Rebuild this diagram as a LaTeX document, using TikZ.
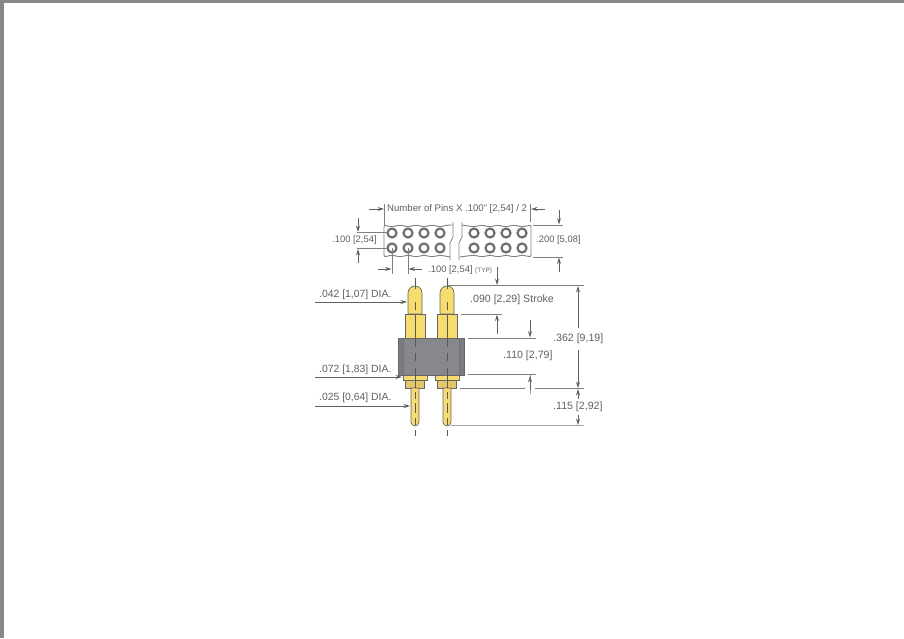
\documentclass[tikz,border=0pt]{standalone}
\usepackage{fontspec}
\setmainfont{Liberation Sans}
\usetikzlibrary{arrows.meta}
\definecolor{pingold}{RGB}{247,219,110}
\definecolor{bodygray}{RGB}{136,136,140}
\definecolor{bodyside}{RGB}{124,124,128}
\definecolor{inkgray}{RGB}{95,95,95}
\definecolor{framegray}{RGB}{135,135,135}
\tikzset{
  dimtext/.style={inner sep=0pt, anchor=west, text=inkgray, font=\fontsize{10.4}{12}\selectfont},
  smalltext/.style={dimtext, font=\fontsize{9.4}{12}\selectfont},
  dimline/.style={draw=inkgray!80, line width=0.9pt},
  dimarrow/.style={draw=inkgray, line width=0.7pt, -{Stealth[length=6.5pt,width=4pt]}},
  pinpart/.style={draw=black!60, line width=0.7pt, fill=pingold},
  axisline/.style={draw=black!65, line width=0.8pt}
}
\begin{document}
\begin{tikzpicture}[x=1pt, y=-1pt]
\useasboundingbox (0,0) rectangle (904,638);
\fill[framegray] (0,0) rectangle (904,3);
\fill[framegray] (0,0) rectangle (4,638);

% top view
\draw[inkgray!80, line width=0.9pt, rounded corners=2pt]
  (453,225) -- (448,225) .. controls (440,227) .. (432,225) .. controls (424,227) .. (416,225)
  .. controls (408,227) .. (400,225) .. controls (392,227) .. (384,225) -- (384,257)
  .. controls (392,255) .. (400,257) .. controls (408,255) .. (416,257) .. controls (424,255) .. (432,257)
  .. controls (440,255) .. (450,257);
\draw[inkgray!80, line width=0.9pt, rounded corners=2pt]
  (462,225) .. controls (474,227) .. (482,225) .. controls (490,227) .. (498,225) .. controls (506,227) .. (514,225)
  .. controls (522,227) .. (531,225) -- (531,257)
  .. controls (522,255) .. (514,257) .. controls (506,255) .. (498,257) .. controls (490,255) .. (482,257)
  .. controls (474,255) .. (460,257);
\foreach \x in {392,408,424,440,474,490,506,522}
  \foreach \y in {233,248}
    \draw[inkgray!90, line width=2.2pt] (\x,\y) circle (4.5);
\draw[inkgray!80, line width=0.8pt] (453,222) -- (453,237) -- (450,243) -- (450,260);
\draw[inkgray!80, line width=0.8pt] (462,222) -- (462,237) -- (459,243) -- (459,260);

\node[dimtext, font=\fontsize{9.6}{12}\selectfont] (pincount) at (387,209) {Number of Pins X .100" [2,54] / 2};
\draw[dimline] (384,204) -- (384,225);
\draw[dimline] (530,204) -- (530,222);
\draw[dimarrow] (369,209) -- (384,209);
\draw[dimarrow] (545,209) -- (531,209);

\node[smalltext] (rowgap) at (332,240.5) {.100 [2,54]};
\draw[dimline] (357,232.5) -- (388,232.5);
\draw[dimline] (357,248) -- (388,248);
\draw[dimarrow] (358,218) -- (358,232);
\draw[dimarrow] (358,263) -- (358,249);

\node[smalltext] (rowspan) at (536,240.5) {.200 [5,08]};
\draw[dimline] (533,225) -- (563,225);
\draw[dimline] (533,257) -- (563,257);
\draw[dimarrow] (559,210) -- (559,224.5);
\draw[dimarrow] (559,272) -- (559,257.5);

\node[smalltext] (pitch) at (428,270.5) {.100 [2,54] {\fontsize{6.4}{7}\selectfont (TYP)}};
\draw[dimline] (392,248) -- (392,274);
\draw[dimline] (408,248) -- (408,274);
\draw[dimarrow] (378,269) -- (391.5,269);
\draw[dimarrow] (422,269) -- (408.5,269);

% side view
\fill[bodygray] (398,338) rectangle (464,375);
\fill[bodyside] (398,338) rectangle (403,375);
\fill[bodyside] (459,338) rectangle (464,375);
\draw[black!60, line width=0.6pt] (398,338) rectangle (464,375);
\draw[black!55, line width=0.5pt] (403,338) -- (403,375) (459,338) -- (459,375);

\foreach \x in {415,447} {
  \draw[pinpart] (\x-7,314) -- (\x-7,293) arc (180:360:7) -- (\x+7,314) -- cycle;
  \draw[pinpart] (\x-10,338) rectangle (\x+10,314);
  \draw[pinpart] (\x-12,375) rectangle (\x+12,380.5);
  \draw[pinpart, fill=pingold!92!black] (\x-9.5,380.5) rectangle (\x+9.5,388);
  \draw[pinpart] (\x-4,388) -- (\x-4,422) arc (180:0:4) -- (\x+4,388) -- cycle;
  \foreach \a/\b in {278/289,302/310,315/347,353/361,368/388,392/399,403/413,418/425,430/436}
    \draw[axisline] (\x,\a) -- (\x,\b);
}

\node[dimtext] (headdia) at (319,295) {.042 [1,07] DIA.};
\draw[dimarrow] (315,302) -- (407,302);
\node[dimtext] (flangedia) at (319,370) {.072 [1,83] DIA.};
\draw[dimarrow] (315,377) -- (402,377);
\node[dimtext] (taildia) at (319,398) {.025 [0,64] DIA.};
\draw[dimarrow] (315,406) -- (410,406);

\draw[dimline] (448,285.5) -- (584,285.5);
\draw[dimarrow] (497,267) -- (497,285);
\node[dimtext, font=\fontsize{10.6}{12}\selectfont] (stroke) at (470,300) {.090 [2,29] Stroke};
\draw[dimline] (461,314) -- (502,314);
\draw[dimarrow] (497,334) -- (497,314.5);
\draw[dimline] (468,338) -- (536,338);
\draw[dimarrow] (530,320) -- (530,337.5);

\node[dimtext, font=\fontsize{10.6}{12}\selectfont] (overall) at (553,339) {.362 [9,19]};
\draw[dimarrow] (578,328) -- (578,286);
\draw[dimarrow] (578,350) -- (578,388);

\node[dimtext, font=\fontsize{10.6}{12}\selectfont] (shoulder) at (503,356) {.110 [2,79]};
\draw[dimline] (468,374.5) -- (536,374.5);
\draw[dimline] (460,388.5) -- (525,388.5);
\draw[dimline] (535,388.5) -- (584,388.5);
\draw[dimline, draw=inkgray!60] (530,375) -- (530,394);
\draw[dimarrow] (530,390) -- (530,376);

\node[dimtext, font=\fontsize{10.6}{12}\selectfont] (taillen) at (553,407) {.115 [2,92]};
\draw[dimarrow] (578,399) -- (578,389);
\draw[dimarrow] (578,415) -- (578,425);
\draw[draw=inkgray!55, line width=1.4pt] (451,425.5) -- (584,425.5);
\end{tikzpicture}
\end{document}
